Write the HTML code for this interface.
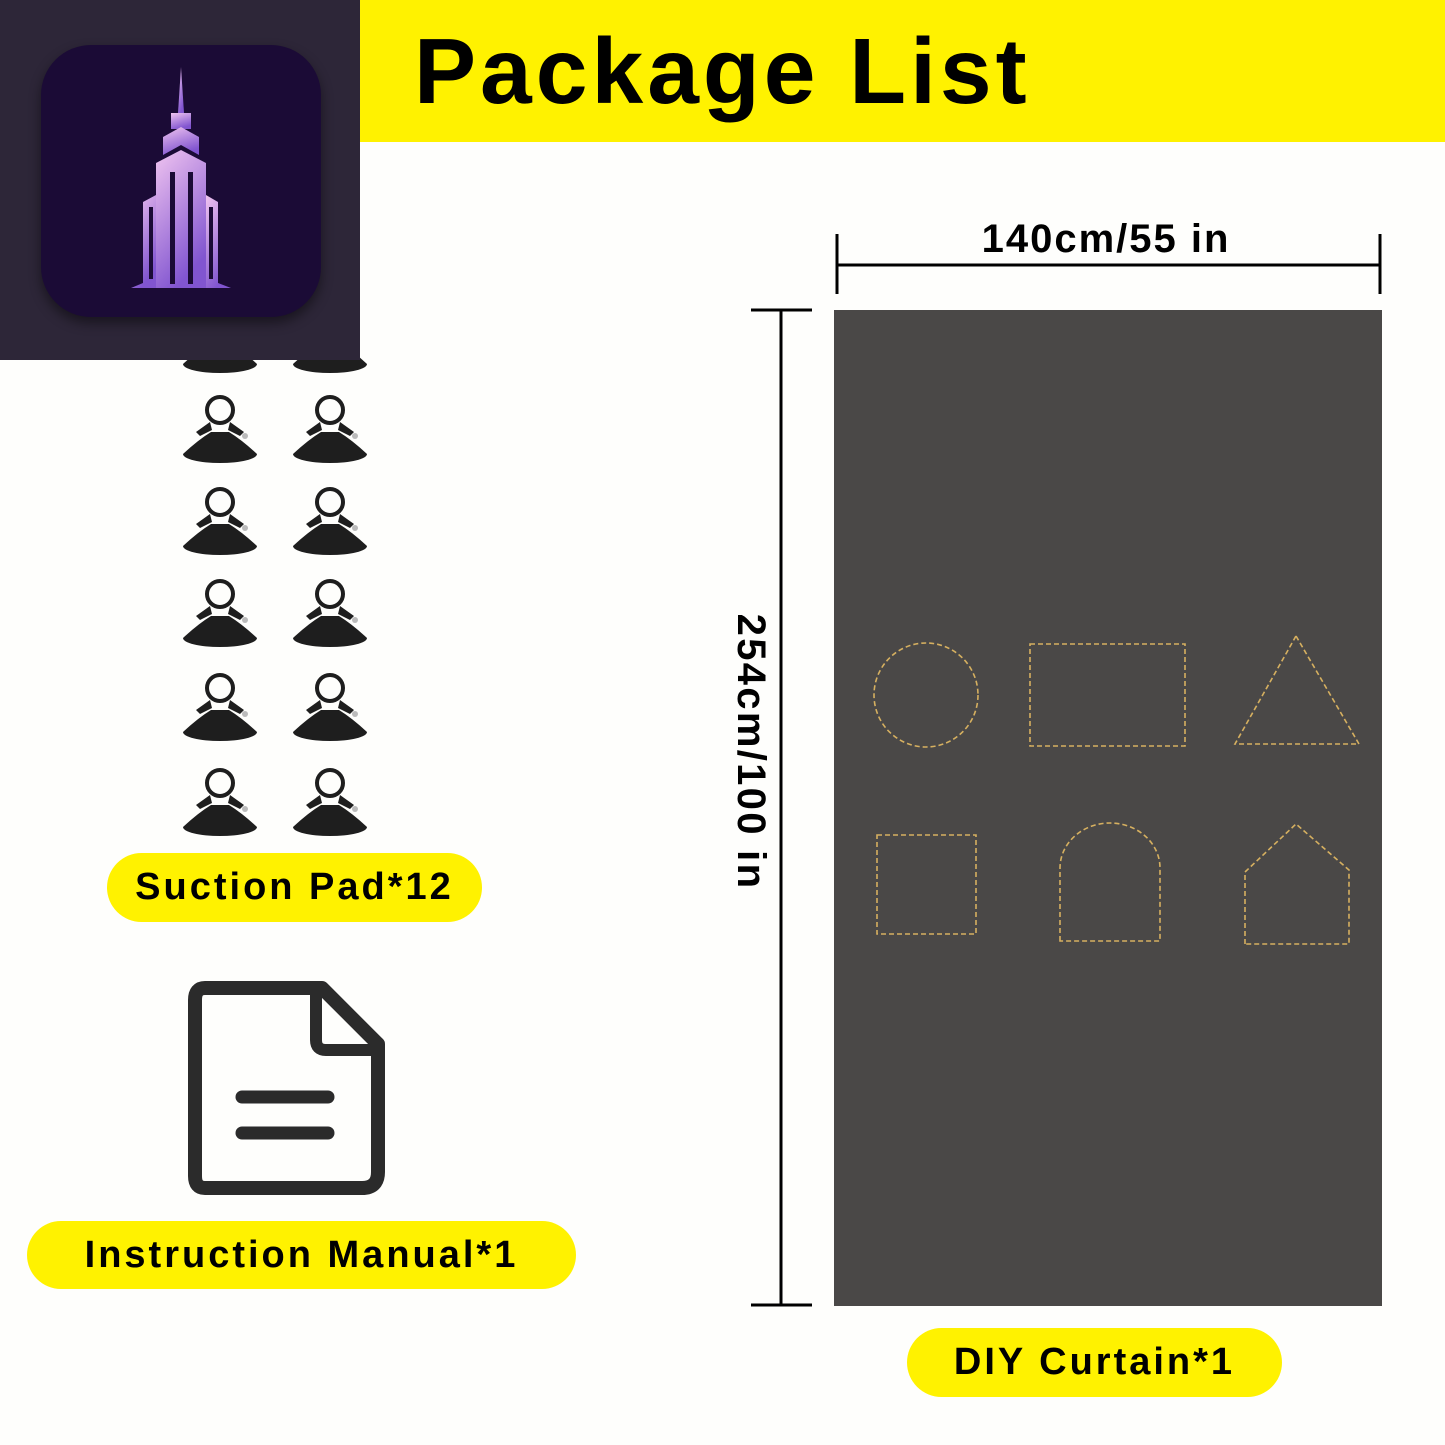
<!DOCTYPE html>
<html><head><meta charset="utf-8"><style>
html,body{margin:0;padding:0}
body{width:1445px;height:1445px;position:relative;background:#fefefc;overflow:hidden;font-family:"Liberation Sans",Arial,sans-serif}
.bar{position:absolute;left:360px;top:0;width:1085px;height:142px;background:#fff200}
.title{position:absolute;left:414px;top:18px;font-size:93px;font-weight:bold;color:#000;letter-spacing:4px}
.pill{position:absolute;background:#fff200;border-radius:40px;font-weight:bold;color:#000;text-align:center;letter-spacing:3px}
.logo{position:absolute;left:0;top:0;width:360px;height:360px;background:#2d2638}
.icon{position:absolute;left:41px;top:45px;width:280px;height:272px;background:#1b0b36;border-radius:50px;box-shadow:0 6px 12px rgba(0,0,0,.45)}
</style></head><body>
<div class="bar"></div>
<div class="title">Package List</div>

<svg width="1445" height="1445" style="position:absolute;left:0;top:0">
<defs>
<g id="pad">
<path d="M-37,44 Q-22,30 -9,22 L9,22 Q22,30 37,44 A37,9 0 0 1 -37,44 Z" fill="#1e1e1e"/>
<path d="M-10,12 L-24,22 L-20,26 L-8,20 Z M10,12 L24,22 L20,26 L8,20 Z" fill="#1e1e1e"/>
<circle cx="0" cy="0" r="13" fill="none" stroke="#1e1e1e" stroke-width="4"/>
<circle cx="25" cy="26" r="3" fill="#bbb"/>
</g>
</defs>
<use href="#pad" x="220" y="320"/><use href="#pad" x="330" y="320"/>
<use href="#pad" x="220" y="410"/><use href="#pad" x="330" y="410"/>
<use href="#pad" x="220" y="502"/><use href="#pad" x="330" y="502"/>
<use href="#pad" x="220" y="594"/><use href="#pad" x="330" y="594"/>
<use href="#pad" x="220" y="688"/><use href="#pad" x="330" y="688"/>
<use href="#pad" x="220" y="783"/><use href="#pad" x="330" y="783"/>

<path d="M205,988 L322,988 L378,1044 L378,1172 Q378,1188 362,1188 L205,1188 Q195,1188 195,1176 L195,1000 Q195,988 205,988 Z" fill="none" stroke="#2b2b2b" stroke-width="14" stroke-linejoin="round"/>
<path d="M316,990 L316,1040 Q316,1050 326,1050 L376,1050" fill="none" stroke="#2b2b2b" stroke-width="12" stroke-linejoin="round"/>
<line x1="242" y1="1097" x2="328" y2="1097" stroke="#2b2b2b" stroke-width="13" stroke-linecap="round"/>
<line x1="242" y1="1133" x2="328" y2="1133" stroke="#2b2b2b" stroke-width="13" stroke-linecap="round"/>

<line x1="837" y1="265" x2="1380" y2="265" stroke="#000" stroke-width="3"/>
<line x1="837" y1="234" x2="837" y2="294" stroke="#000" stroke-width="3"/>
<line x1="1380" y1="234" x2="1380" y2="294" stroke="#000" stroke-width="3"/>
<line x1="781" y1="310" x2="781" y2="1305" stroke="#000" stroke-width="3"/>
<line x1="751" y1="310" x2="812" y2="310" stroke="#000" stroke-width="3"/>
<line x1="751" y1="1305" x2="812" y2="1305" stroke="#000" stroke-width="3"/>
<text x="1106" y="252" font-size="40" font-weight="bold" text-anchor="middle" letter-spacing="2" font-family="Liberation Sans, sans-serif">140cm/55 in</text>
<text transform="translate(738,752) rotate(90)" font-size="40" font-weight="bold" text-anchor="middle" letter-spacing="2.3" font-family="Liberation Sans, sans-serif">254cm/100 in</text>

<rect x="834" y="310" width="548" height="996" fill="#4a4847"/>
<g fill="none" stroke="#d6b060" stroke-width="1.6" stroke-dasharray="5,3">
<circle cx="926" cy="695" r="52"/>
<rect x="1030" y="644" width="155" height="102"/>
<path d="M1296,636 L1359,744 L1235,744 Z"/>
<rect x="877" y="835" width="99" height="99"/>
<path d="M1060,941 L1060,868 A50,45 0 0 1 1160,868 L1160,941 Z"/>
<path d="M1245,944 L1245,872 L1296,824 L1349,870 L1349,944 Z"/>
</g>
</svg>

<div class="pill" style="left:107px;top:853px;width:375px;height:69px;line-height:69px;font-size:38px">Suction Pad*12</div>
<div class="pill" style="left:27px;top:1221px;width:549px;height:68px;line-height:68px;font-size:38px">Instruction Manual*1</div>
<div class="pill" style="left:907px;top:1328px;width:375px;height:69px;line-height:69px;font-size:38px">DIY Curtain*1</div>

<div class="logo"><div class="icon">
<svg width="280" height="272" style="position:absolute;left:0;top:0">
<defs><linearGradient id="g" x1="0" y1="0" x2="0.4" y2="1"><stop offset="0" stop-color="#f0c4f0"/><stop offset="1" stop-color="#8155d0"/></linearGradient></defs>
<g fill="url(#g)">
<path d="M140,22 L143,68 L137,68 Z"/>
<rect x="130" y="68" width="20" height="16"/>
<path d="M122,92 L140,82 L158,92 L158,110 L140,100 L122,110 Z"/>
<path d="M115,118 L140,105 L165,118 L165,243 L115,243 Z"/>
<path d="M102,157 L115,150 L115,243 L90,243 L102,238 Z"/>
<path d="M165,150 L177,157 L177,238 L190,243 L165,243 Z"/>
</g>
<g fill="#1b0b36"><rect x="129" y="127" width="5" height="112"/><rect x="147" y="127" width="5" height="112"/><rect x="108" y="162" width="4" height="72"/><rect x="168" y="162" width="4" height="72"/></g>
</svg></div></div>
</body></html>
